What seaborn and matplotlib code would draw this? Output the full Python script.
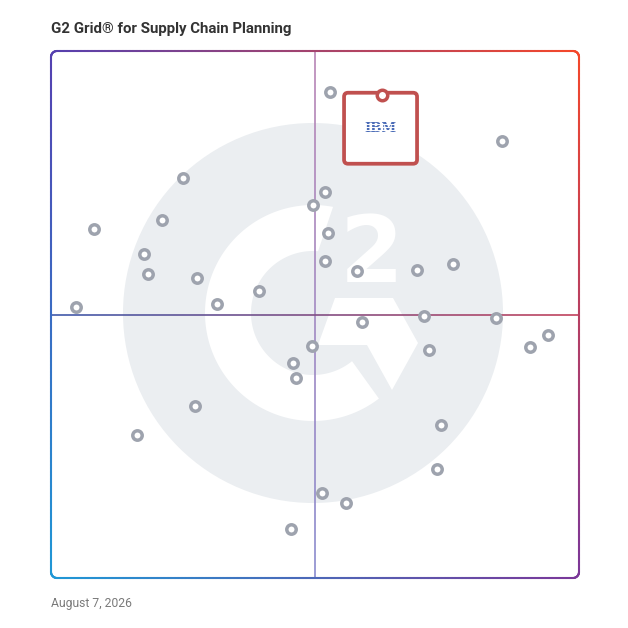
import numpy as np
import matplotlib
matplotlib.use("Agg")
import matplotlib.pyplot as plt
import matplotlib.transforms as mtransforms
import seaborn as sns
from matplotlib.collections import LineCollection
from matplotlib.patches import Polygon, Ellipse, FancyBboxPatch
from matplotlib.colors import to_rgb

# ---------------- data ----------------
title = "G2 Grid\u00ae for Supply Chain Planning"
date_label = "August 7, 2026"

satisfaction = [52.8, 85.4, 25.0, 51.9, 49.6, 21.0, 8.1, 52.5, 17.6, 51.9,
                58.0, 69.3, 76.1, 18.4, 27.7, 39.4, 31.4, 4.7, 70.6, 84.3,
                58.9, 94.1, 90.7, 49.4, 71.6, 45.8, 46.4, 27.3, 16.3, 73.9,
                73.1, 51.3, 55.9, 45.5]
market_presence = [92.2, 82.9, 75.9, 73.2, 70.8, 67.9, 66.2, 65.5, 61.5, 60.2,
                   58.3, 58.4, 59.6, 57.7, 56.9, 54.5, 52.0, 51.4, 49.7, 49.3,
                   48.6, 46.1, 43.8, 44.0, 43.3, 40.8, 38.0, 32.6, 27.1, 29.0,
                   20.7, 16.1, 14.2, 9.3]

highlight_name = "IBM"
highlight_x = [62.7]
highlight_y = [91.7]

# ---------------- setup ----------------
sns.set_theme(style="white")
plt.rcParams['font.family'] = ['Roboto', 'DejaVu Sans']

W = H = 628
fig = plt.figure(figsize=(6.28, 6.28), dpi=100)
fig.patch.set_facecolor('white')
L, R, T, B = 51, 579, 51, 578
ax = fig.add_axes([L / W, 1 - B / H, (R - L) / W, (B - T) / H])
ax.set_xlim(0, 100)
ax.set_ylim(0, 100)
ax.axis('off')
sx = (R - L) / 100.0
sy = (B - T) / 100.0


def to_data(x, y):
    return ((np.asarray(x) - L) / sx, (B - np.asarray(y)) / sy)


# ---------------- watermark (G2 logo) ----------------
wm_gray = '#ebeef1'
cx, cy = 313, 313
ecx, ecy = to_data(cx, cy)
ax.add_patch(Ellipse((ecx, ecy), 2 * 190 / sx, 2 * 190 / sy, facecolor=wm_gray,
                     edgecolor='none', zorder=0))


def ring_pts(r, a0, a1, n=200):
    a = np.radians(np.linspace(a0, a1, n))
    return cx + r * np.cos(a), cy - r * np.sin(a)


ox, oy = ring_pts(108, 79.3, 307.6)
ix, iy = ring_pts(62, 309.0, 85.3)
rx = np.concatenate([ox, ix])
ry = np.concatenate([oy, iy])
dx_, dy_ = to_data(rx, ry)
ax.add_patch(Polygon(np.column_stack([dx_, dy_]), closed=True, facecolor='white',
                     edgecolor='none', zorder=0.5))

chev = np.array([(335, 298), (393, 298), (418, 343), (392, 390), (367, 345), (318, 345)], float)
cdx, cdy = to_data(chev[:, 0], chev[:, 1])
ax.add_patch(Polygon(np.column_stack([cdx, cdy]), closed=True, facecolor='white',
                     edgecolor='none', zorder=0.5))
tx, ty = to_data(372, 282)
ax.text(tx, ty, "2", ha='center', va='baseline', fontsize=66, fontweight='bold',
        family='DejaVu Sans', color='white', zorder=0.6)


# ---------------- gradient border + midlines ----------------
def mix(c0, c1, t):
    c0 = np.array(to_rgb(c0)); c1 = np.array(to_rgb(c1))
    return c0 * (1 - t) + c1 * t


TL, TR, BL, BR = '#5540b0', '#f5472a', '#1f98d6', '#7b3799'


def bilinear(x, y):
    u = (x - L) / (R - L)
    v = (y - T) / (B - T)
    top = mix(TL, TR, u)
    bot = mix(BL, BR, u)
    return top * (1 - v) + bot * v


rr = 6
pts = []
def edge(p0, p1, n=150):
    for t in np.linspace(0, 1, n):
        pts.append((p0[0] + (p1[0] - p0[0]) * t, p0[1] + (p1[1] - p0[1]) * t))
def arc(c, a0, a1, n=20):
    for a in np.radians(np.linspace(a0, a1, n)):
        pts.append((c[0] + rr * np.cos(a), c[1] + rr * np.sin(a)))

edge((L + rr, T), (R - rr, T))
arc((R - rr, T + rr), -90, 0)
edge((R, T + rr), (R, B - rr))
arc((R - rr, B - rr), 0, 90)
edge((R - rr, B), (L + rr, B))
arc((L + rr, B - rr), 90, 180)
edge((L, B - rr), (L, T + rr))
arc((L + rr, T + rr), 180, 270)
pts.append(pts[0])
pts = np.array(pts)
bx, by = to_data(pts[:, 0], pts[:, 1])
segs = [[(bx[i], by[i]), (bx[i + 1], by[i + 1])] for i in range(len(bx) - 1)]
cols = [bilinear((pts[i, 0] + pts[i + 1, 0]) / 2, (pts[i, 1] + pts[i + 1, 1]) / 2)
        for i in range(len(bx) - 1)]
ax.add_collection(LineCollection(segs, colors=cols, linewidths=1.5, capstyle='round',
                                 zorder=3, clip_on=False))

n = 200
vy = np.linspace(100, 0, n)
vsegs = [[(50, vy[i]), (50, vy[i + 1])] for i in range(n - 1)]
vcols = [mix('#b985b5', '#8a8bce', i / (n - 2)) for i in range(n - 1)]
ax.add_collection(LineCollection(vsegs, colors=vcols, linewidths=1.2, zorder=2, clip_on=False))
hx = np.linspace(0, 100, n)
hsegs = [[(hx[i], 50), (hx[i + 1], 50)] for i in range(n - 1)]
hcols = [mix('#3f5aab', '#c2425c', i / (n - 2)) for i in range(n - 1)]
ax.add_collection(LineCollection(hsegs, colors=hcols, linewidths=1.2, zorder=2, clip_on=False))

# ---------------- points ----------------
sns.scatterplot(x=satisfaction, y=market_presence, ax=ax, s=46, color='white',
                edgecolor='#9ea3ae', linewidth=2.5, zorder=5, legend=False, clip_on=False)

# ---------------- highlight callout ----------------
red = '#c0504f'
ident = mtransforms.IdentityTransform()
hdx, hdy = ax.transData.transform((highlight_x[0], highlight_y[0]))
ax.add_patch(FancyBboxPatch((hdx - 38, hdy - 69), 73, 71,
                            boxstyle="round,pad=0,rounding_size=4",
                            facecolor='white', edgecolor=red, linewidth=2.7,
                            transform=ident, zorder=6, clip_on=False))
ax.scatter(highlight_x, highlight_y, s=57, facecolor='white', edgecolor=red,
           linewidth=2.5, zorder=7, clip_on=False)
ax.text(hdx - 2, hdy - 34, highlight_name, transform=ident, ha='center', va='center',
        fontsize=9.5, fontweight='bold', family='DejaVu Serif', color='#4b6cb7', zorder=8)
for off in (-4.5, -1.5, 1.5, 4.5):
    ax.plot([hdx - 20, hdx + 16], [hdy - 34 + off, hdy - 34 + off], color='white',
            lw=0.7, transform=ident, zorder=9, solid_capstyle='butt')

# ---------------- text ----------------
fig.text(51 / W, 1 - 29 / H, title, ha='left', va='center', fontsize=10.8,
         fontweight='bold', color='#333333')
fig.text(51 / W, 1 - 604 / H, date_label, ha='left', va='center', fontsize=8.7,
         color='#7a7a7a')

fig.savefig('out.png', dpi=100, facecolor='white')
